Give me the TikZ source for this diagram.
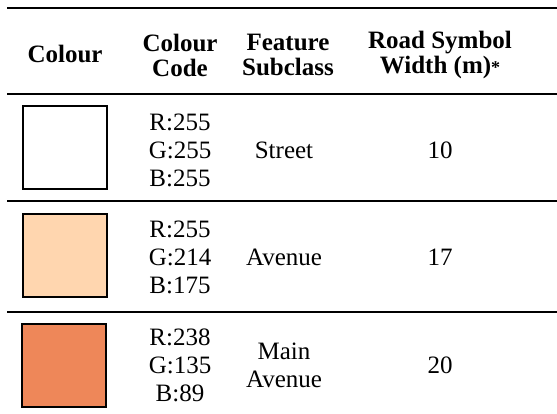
\documentclass[tikz,border=0pt]{standalone}
\usepackage{fontspec}
\setmainfont{Liberation Serif}
\newfontfamily\tablefont{Liberation Serif}
\usetikzlibrary{positioning}
\definecolor{avenuefill}{RGB}{255,214,175}
\definecolor{mainfill}{RGB}{238,135,89}

\begin{document}
\begin{tikzpicture}[x=1pt, y=-1pt,
  cell/.style={font=\tablefont\fontsize{25}{28}\selectfont, align=center, inner sep=0pt},
  head/.style={cell, font=\tablefont\fontsize{25}{25}\selectfont\bfseries},
  swatch/.style={draw, line width=2pt, minimum width=84pt,
    minimum height=83pt, inner sep=0pt},
  rule/.style={line width=2.5pt},
]
\useasboundingbox (0,0) rectangle (557,414);

% Rules
\draw[rule] (7,8) -- (557,8);
\draw[rule] (7,94) -- (557,94);
\draw[rule] (7,201) -- (557,201);
\draw[rule] (7,312) -- (557,312);

% Header
\node[head] (hcolour) at (65,54) {Colour};
\node[head] (hcode) at (180,55) {Colour\\Code};
\node[head] (hclass) at (288,55) {Feature\\Subclass};
\node[head] (hwidth) at (440,55)
  {Road Symbol\\Width (m){\fontsize{18}{18}\selectfont*}};

% Street
\node[swatch, fill=white] (street) at (64.5,148) {};
\node[cell] (streetcode) at (180,150) {R:255\\G:255\\B:255};
\node[cell] (streetclass) at (284,150) {Street};
\node[cell] (streetwidth) at (440,150) {10};

% Avenue
\node[swatch, fill=avenuefill] (avenue) at (64.5,255.5) {};
\node[cell] (avenuecode) at (180,257) {R:255\\G:214\\B:175};
\node[cell] (avenueclass) at (284,257) {Avenue};
\node[cell] (avenuewidth) at (440,257) {17};

% Main Avenue
\node[swatch, fill=mainfill] (mainave) at (64,365.5) {};
\node[cell] (maincode) at (180,365) {R:238\\G:135\\B:89};
\node[cell] (mainclass) at (284,365) {Main\\Avenue};
\node[cell] (mainwidth) at (440,365) {20};

\end{tikzpicture}
\end{document}
